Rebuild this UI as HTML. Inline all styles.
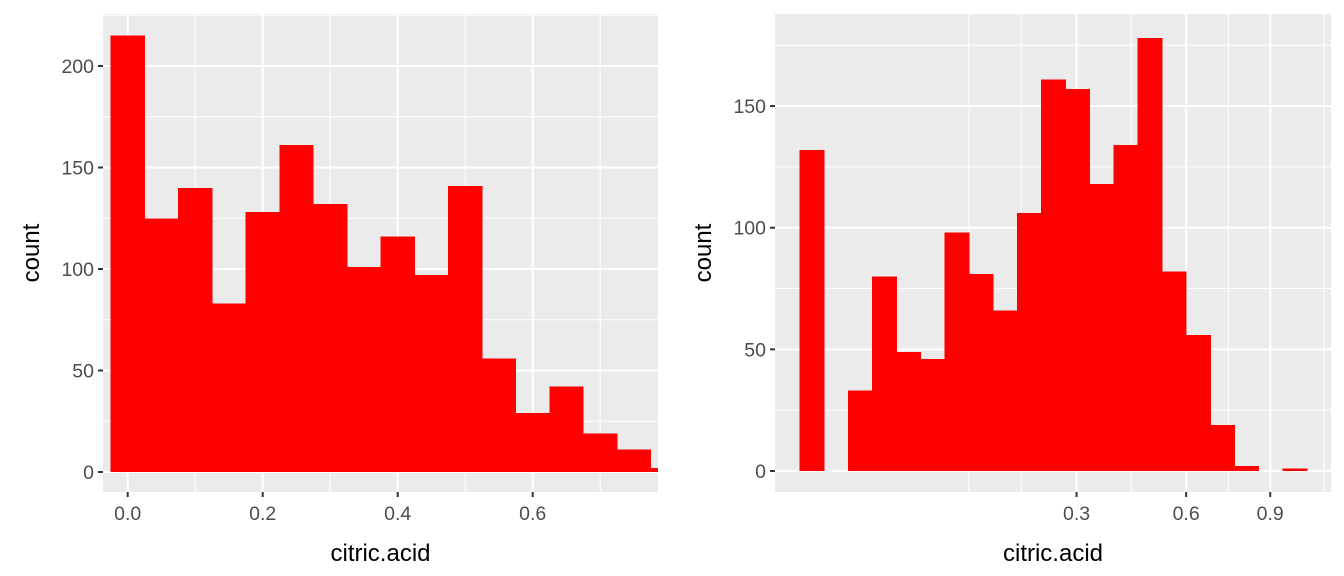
<!DOCTYPE html>
<html><head><meta charset="utf-8"><style>
html,body{margin:0;padding:0;background:#fff;}
svg{display:block;font-family:"Liberation Sans",Arial,sans-serif;}
</style></head><body>
<svg id="c" width="1344" height="576" viewBox="0 0 1344 576" xmlns="http://www.w3.org/2000/svg"></svg>
<script>
// Left histogram (linear x), bins of width 0.05 centered at these values
const leftCenters = [0,0.05,0.1,0.15,0.2,0.25,0.3,0.35,0.4,0.45,0.5,0.55,0.6,0.65,0.7,0.75,0.8];
const leftCounts  = [215,125,140,83,128,161,132,101,116,97,141,56,29,42,19,11,2];
const leftXTicks = [0,0.2,0.4,0.6];
const leftXTickLabels = ["0.0","0.2","0.4","0.6"];
const leftYTicks = [0,50,100,150,200];
// Right histogram (sqrt x), bins of width 0.05 in sqrt space centered at these values
const rightCenters = [0,0.05,0.1,0.15,0.2,0.25,0.3,0.35,0.4,0.45,0.5,0.55,0.6,0.65,0.7,0.75,0.8,0.85,0.9,0.95,1.0];
const rightCounts  = [132,0,33,80,49,46,98,81,66,106,161,157,118,134,178,82,56,19,2,0,1];
const rightXTicks = [0.3,0.6,0.9];
const rightXTickLabels = ["0.3","0.6","0.9"];
const rightYTicks = [0,50,100,150];

const NS="http://www.w3.org/2000/svg";
const svg=document.getElementById('c');
function el(tag,attrs,parent){const e=document.createElementNS(NS,tag);for(const k in attrs)e.setAttribute(k,attrs[k]);(parent||svg).appendChild(e);return e;}

function panel(o){
  const g=el('g',{});
  
  
  const bg=el('rect',{x:o.L,y:o.T,width:o.R-o.L,height:o.B-o.T,fill:'#ebebeb'},g);
  
  
  o.yMinor.forEach(v=>{const y=o.ys(v);if(y>=o.T&&y<=o.B)el('line',{x1:o.L,x2:o.R,y1:y,y2:y,stroke:'#fff','stroke-width':1},g);});
  o.xMinorPx.forEach(x=>{if(x>=o.L&&x<=o.R)el('line',{x1:x,x2:x,y1:o.T,y2:o.B,stroke:'#fff','stroke-width':1},g);});
  o.yTicks.forEach(v=>{const y=o.ys(v);el('line',{x1:o.L,x2:o.R,y1:y,y2:y,stroke:'#fff','stroke-width':2},g);});
  o.xTicks.forEach(v=>{const x=o.xs(v);el('line',{x1:x,x2:x,y1:o.T,y2:o.B,stroke:'#fff','stroke-width':2},g);});
  const clip=el('clipPath',{id:o.name+'-clip'},g);
  el('rect',{x:o.L,y:o.T,width:o.R-o.L,height:o.B-o.T},clip);
  const bg2=el('g',{'clip-path':'url(#'+o.name+'-clip)'},g);
  o.centers.forEach((c,i)=>{
    const n=o.counts[i]; if(n<=0) return;
    const x1=o.bx(c-o.bw/2), x2=o.bx(c+o.bw/2);
    const y=o.ys(n), y0=o.ys(0);
    const r=el('rect',{x:x1-0.3,y:y,width:x2-x1+0.6,height:y0-y,fill:'#ff0000','shape-rendering':'crispEdges'},bg2);
    
    
  });
  o.yTicks.forEach(v=>{const y=o.ys(v);
    el('line',{x1:o.L-5,x2:o.L,y1:y,y2:y,stroke:'#333','stroke-width':2},g);
    const t=el('text',{x:o.L-9,y:y+7,'text-anchor':'end','font-size':19.5,fill:'#4d4d4d'},g);t.textContent=v;
    
    
  });
  o.xTicks.forEach((v,i)=>{const x=o.xs(v);
    el('line',{x1:x,x2:x,y1:o.B,y2:o.B+5,stroke:'#333','stroke-width':2},g);
    const t=el('text',{x:x,y:o.B+28,'text-anchor':'middle','font-size':19.5,fill:'#4d4d4d'},g);t.textContent=o.xLabels[i];
    
    
  });
  const xt=el('text',{x:(o.L+o.R)/2,y:561,'text-anchor':'middle','font-size':24,fill:'#000'},g);xt.textContent='citric.acid';
  
  
  const cy=(o.T+o.B)/2;
  const yt=el('text',{x:0,y:0,'text-anchor':'middle','font-size':24,fill:'#000',transform:'translate('+(o.L-64)+','+cy+') rotate(-90)'},g);yt.textContent='count';
  
  
}

const lx0=127.7, lsx=675, ly0=472, lsy=2.03;
panel({name:'left-panel',L:103,R:658,T:14,B:492,
  xs:v=>lx0+v*lsx, bx:v=>lx0+v*lsx, ys:v=>ly0-v*lsy, bw:0.05,
  centers:leftCenters,counts:leftCounts,
  xTicks:leftXTicks,xLabels:leftXTickLabels,
  xMinorPx:[-0.1,0.1,0.3,0.5,0.7].map(v=>lx0+v*lsx),
  yTicks:leftYTicks,yMinor:[25,75,125,175,225]});

const rx0=812, rsx=483, ry0=471, rsy=2.433;
panel({name:'right-panel',L:775,R:1331,T:14,B:492,
  xs:v=>rx0+Math.sqrt(v)*rsx, bx:s=>rx0+s*rsx, ys:v=>ry0-v*rsy, bw:0.05,
  centers:rightCenters,counts:rightCounts,
  xTicks:rightXTicks,xLabels:rightXTickLabels,
  xMinorPx:[0.325,0.433,0.661,0.862,1.06].map(s=>rx0+s*rsx),
  yTicks:rightYTicks,yMinor:[25,75,125,175]});
</script>
</body></html>
